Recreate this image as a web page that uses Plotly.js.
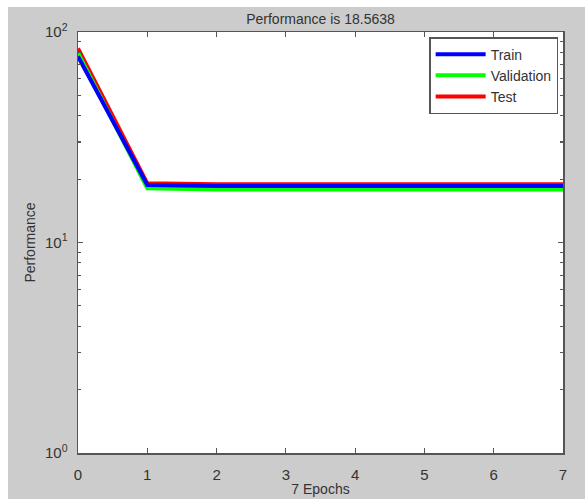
<!DOCTYPE html>
<html>
<head>
<meta charset="utf-8">
<script src="https://cdn.plot.ly/plotly-3.0.1.min.js"></script>
<style>
  html, body { margin: 0; padding: 0; background: #ffffff; width: 585px; height: 502px; overflow: hidden; }
  #chart { position: absolute; left: 8px; top: 7px; width: 577px; height: 492px; background: #cccccc; }
</style>
</head>
<body>
<div id="chart"></div>
<script>
const epochs = [0, 1, 2, 3, 4, 5, 6, 7];
const trainPerf = [76.5, 18.75, 18.56, 18.56, 18.56, 18.56, 18.56, 18.56];
const validationPerf = [79.5, 18.1, 17.85, 17.85, 17.85, 17.85, 17.85, 17.85];
const testPerf = [83.5, 19.1, 18.9, 18.9, 18.9, 18.9, 18.9, 18.9];
const xTickVals = [0, 1, 2, 3, 4, 5, 6, 7];
const yTickVals = [1, 10, 100];
const yTickText = ['10<sup>0</sup>', '10<sup>1</sup>', '10<sup>2</sup>'];
const yMinorVals = [2,3,4,5,6,7,8,9,20,30,40,50,60,70,80,90];

const traces = [
  {x: epochs, y: testPerf, name: 'Test', mode: 'lines', line: {color: '#ff0000', width: 4}, legendrank: 3},
  {x: epochs, y: validationPerf, name: 'Validation', mode: 'lines', line: {color: '#00ff00', width: 4}, legendrank: 2},
  {x: epochs, y: trainPerf, name: 'Train', mode: 'lines', line: {color: '#0000ff', width: 4}, legendrank: 1}
];

const axisFont = {family: 'Liberation Sans, Arial, sans-serif', size: 14, color: '#333333'};
const tickFont = {family: 'Liberation Sans, Arial, sans-serif', size: 15, color: '#333333'};

const layout = {
  width: 577, height: 492,
  paper_bgcolor: '#cccccc',
  plot_bgcolor: '#ffffff',
  margin: {l: 70, r: 22, t: 25, b: 46},
  title: {text: 'Performance is 18.5638', font: {family: 'Liberation Sans, Arial, sans-serif', size: 14, color: '#333333'}, x: 0.5, xref: 'paper', y: 0.985, yref: 'container', yanchor: 'top'},
  showlegend: true,
  legend: {
    x: 0.99, xanchor: 'right', y: 0.988, yanchor: 'top',
    bgcolor: '#ffffff', bordercolor: '#555555', borderwidth: 1.5,
    font: {family: 'Liberation Sans, Arial, sans-serif', size: 14, color: '#333333'},
    traceorder: 'normal', itemwidth: 50, tracegroupgap: 0
  },
  xaxis: {
    range: [0, 7], tickvals: xTickVals, ticktext: xTickVals.map(String),
    ticks: 'inside', ticklen: 5, tickcolor: '#555555', tickwidth: 1.2,
    showline: true, linecolor: '#555555', linewidth: 1.5, mirror: 'ticks',
    showgrid: false, zeroline: false, ticklabelstandoff: 7,
    tickfont: tickFont,
    title: {text: '7 Epochs', font: axisFont, standoff: 2}
  },
  yaxis: {
    type: 'log', range: [0, 2], tickvals: yTickVals, ticktext: yTickText,
    ticks: 'inside', ticklen: 5, tickcolor: '#555555', tickwidth: 1.2,
    showline: true, linecolor: '#555555', linewidth: 1.5, mirror: 'ticks',
    showgrid: false, zeroline: false, ticklabelstandoff: 6,
    tickfont: tickFont,
    minor: {tickvals: yMinorVals, ticks: 'inside', ticklen: 3, tickcolor: '#555555', showgrid: false},
    title: {text: 'Performance', font: axisFont, standoff: 6}
  }
};

Plotly.newPlot('chart', traces, layout, {displayModeBar: false, staticPlot: true});
</script>
</body>
</html>
